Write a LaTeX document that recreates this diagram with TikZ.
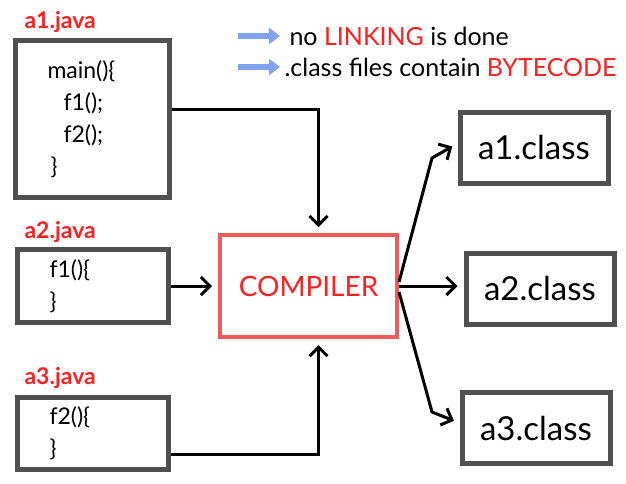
\documentclass[tikz,border=0pt]{standalone}
\usepackage{fontspec}
\setmainfont{Lato}
\usetikzlibrary{arrows.meta}
\definecolor{boxgray}{HTML}{505050}
\definecolor{hotred}{HTML}{FF1F1F}
\definecolor{palered}{HTML}{F05A5A}
\definecolor{hintblue}{HTML}{7FA3EE}
\newcommand{\codesize}{\fontsize{23}{32}\selectfont}
\newcommand{\ind}[0]{\hspace*{16pt}}

\begin{document}
\begin{tikzpicture}[x=1pt, y=-1pt]
  \tikzset{
    srcbox/.style={draw=boxgray, line width=5pt, anchor=north west, align=left,
      inner xsep=32pt, font=\codesize},
    filelabel/.style={anchor=west, text=hotred, font=\fontsize{23}{26}\selectfont\bfseries},
    classbox/.style={draw=boxgray, line width=5pt, minimum width=148, minimum height=71,
      font=\fontsize{33}{38}\selectfont},
    notetext/.style={anchor=west, font=\fontsize{25}{30}\selectfont},
    flow/.style={line width=3pt, shorten >=6pt,
      -{Straight Barb[length=9pt, width=18pt, line width=3pt]}},
    hint/.style={draw=hintblue, line width=6pt, -{Triangle[length=11pt, width=16pt]}}
  }
  \useasboundingbox (0,0) rectangle (626,483);

  \node[filelabel] (a1label) at (21,22) {a1.java};
  \node[srcbox, text width=90, minimum height=157] (a1java) at (13,38)
    {main()\{\\\ind f1();\\\ind f2();\\\hspace*{3pt}\}};
  \node[filelabel] (a2label) at (21,232) {a2.java};
  \node[srcbox, text width=87, minimum height=73] (a2java) at (15,247)
    {f1()\{\\\}};
  \node[filelabel] (a3label) at (21,378) {a3.java};
  \node[srcbox, text width=87, minimum height=72] (a3java) at (15,395)
    {f2()\{\\\}};

  \node[draw=palered, line width=4pt, minimum width=177, minimum height=102,
    text=hotred, font=\fontsize{28}{32}\selectfont] (compiler) at (308.5,286) {COMPILER};

  \node[classbox] (a1class) at (534,147.5) {a1.class};
  \node[classbox] (a2class) at (540,288.5) {a2.class};
  \node[classbox] (a3class) at (536,428) {a3.class};

  \node[notetext] (note1) at (286,36) {no \textcolor{hotred}{LINKING} is done};
  \node[notetext] (note2) at (281,67) {.class files contain \textcolor{hotred}{BYTECODE}};
  \draw[hint] ([xshift=-48pt]note1.west) -- ([xshift=-6pt]note1.west);
  \draw[hint] ([xshift=-43pt]note2.west) -- ([xshift=-1pt]note2.west);

  \draw[flow] ([yshift=9.5pt]a1java.east) -| ([xshift=10pt]compiler.north);
  \draw[flow] (a2java.east) -- (a2java.east -| compiler.west);
  \draw[flow] ([yshift=-21pt]a3java.east) -| ([xshift=10pt]compiler.south);

  \draw[flow] ([yshift=4pt]compiler.east) -- ++(33,-124) -- ([yshift=4pt]a1class.west);
  \draw[flow] (compiler.east) -- (compiler.east -| a2class.west);
  \draw[flow] ([yshift=-6pt]compiler.east) -- ++(33,120) -- ([yshift=5pt]a3class.west);
\end{tikzpicture}
\end{document}
